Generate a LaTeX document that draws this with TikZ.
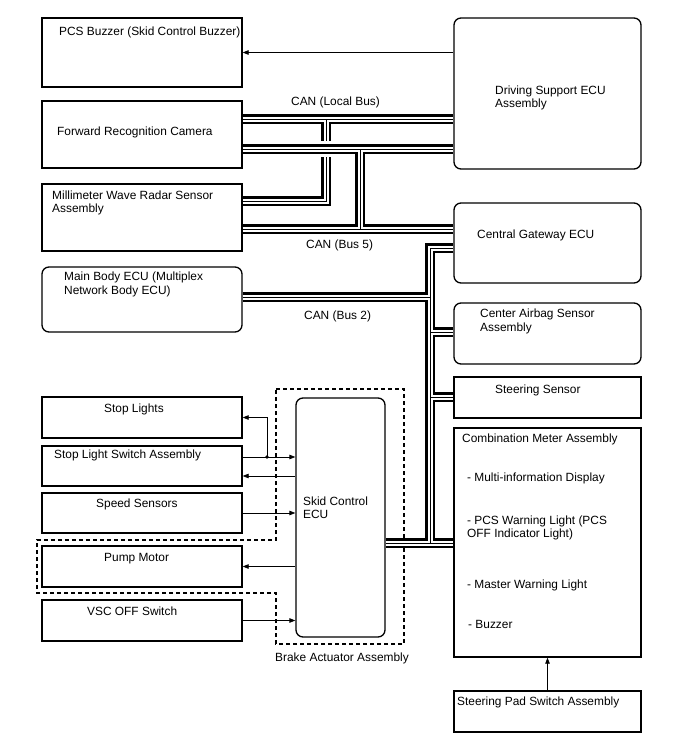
\documentclass[tikz,border=0pt]{standalone}
\usepackage{fontspec}
\setmainfont{Liberation Sans}
\usetikzlibrary{arrows.meta,fit}
\newcommand\canbus[1]{\draw[busA] #1; \draw[busB] #1; \draw[busC] #1;}
\begin{document}
\begin{tikzpicture}[x=1pt,y=-1pt,
  font=\fontsize{11.9}{13.4}\selectfont,
  sbox/.style={draw, line width=1.3pt, inner sep=0pt},
  rbox/.style={sbox, rounded corners=7pt},
  txt/.style={anchor=base west, inner sep=0pt},
  mtxt/.style={anchor=base west, inner sep=0pt, align=left},
  arr/.style={line width=0.8pt, -{Triangle[length=6pt,width=4.5pt]}},
  busA/.style={line width=9.2pt, black, line join=miter},
  busB/.style={line width=5pt, white, line join=miter},
  busC/.style={line width=1pt, black, line join=miter},
  brk/.style={line width=1.3pt, dash pattern=on 4pt off 3pt}]
\useasboundingbox (0,0) rectangle (688,755);
% boxes
\node[sbox, fit={(42,18) (242,87)}] (pcs) {};
\node[rbox, fit={(454,18) (641,169)}] (ds) {};
\node[sbox, fit={(42,101) (242,168)}] (cam) {};
\node[sbox, fit={(42,184) (242,251)}] (radar) {};
\node[rbox, fit={(454,203) (641,283)}] (cgw) {};
\node[rbox, fit={(42,267) (242,332)}] (mb) {};
\node[rbox, fit={(454,303) (641,364)}] (cas) {};
\node[sbox, fit={(454,377) (641,418)}] (ss) {};
\node[sbox, fit={(454,428) (641,657)}] (cm) {};
\node[sbox, fit={(454,691) (641,732)}] (sps) {};
\node[sbox, fit={(42,397) (242,438)}] (sl) {};
\node[sbox, fit={(42,446) (242,486)}] (sls) {};
\node[sbox, fit={(42,493) (242,533)}] (spd) {};
\node[sbox, fit={(42,546) (242,587)}] (pm) {};
\node[sbox, fit={(42,600) (242,641)}] (vsc) {};
\node[rbox, fit={(296,398) (385,637)}] (ecu) {};
% brake actuator outline
\draw[brk] (276,389) -- (404,389) -- (404,644) -- (276,644) -- (276,593) -- (37,593) -- (37,540) -- (276,540) -- cycle;
% texts
\node[txt] (pcs-t) at (59,35) {PCS Buzzer (Skid Control Buzzer)};
\node[mtxt] (ds-t) at (495,107.5) {Driving Support ECU\\Assembly};
\node[txt] (cam-t) at (57,135) {Forward Recognition Camera};
\node[mtxt] (radar-t) at (52,212.5) {Millimeter Wave Radar Sensor\\Assembly};
\node[mtxt] (mb-t) at (64,294) {Main Body ECU (Multiplex\\Network Body ECU)};
\node[txt] (cgw-t) at (477,238) {Central Gateway ECU};
\node[mtxt] (cas-t) at (480,331) {Center Airbag Sensor\\Assembly};
\node[txt] (ss-t) at (495,393) {Steering Sensor};
\node[txt] (cm-t1) at (462,442) {Combination Meter Assembly};
\node[txt] (cm-t2) at (467,481) {- Multi-information Display};
\node[mtxt] (cm-t3) at (467,537.5) {- PCS Warning Light (PCS\\OFF Indicator Light)};
\node[txt] (cm-t4) at (467,588) {- Master Warning Light};
\node[txt] (cm-t5) at (468,628) {- Buzzer};
\node[txt] (sps-t) at (457,705) {Steering Pad Switch Assembly};
\node[txt] (sl-t) at (104,412) {Stop Lights};
\node[txt] (sls-t) at (54,458) {Stop Light Switch Assembly};
\node[txt] (spd-t) at (96,507) {Speed Sensors};
\node[txt] (pm-t) at (104,561) {Pump Motor};
\node[txt] (vsc-t) at (87,615) {VSC OFF Switch};
\node[mtxt] (ecu-t) at (303,518.5) {Skid Control\\ECU};
\node[txt] (brk-t) at (275,661) {Brake Actuator Assembly};
\node[txt] (lb-t) at (291,105) {CAN (Local Bus)};
\node[txt] (b5-t) at (306,248) {CAN (Bus 5)};
\node[txt] (b2-t) at (304,319) {CAN (Bus 2)};
% CAN local bus
\canbus{(cam.east |- 0,119) -- (ds.west |- 0,119)
  (326,119) -- (326,141)
  (326,157) -- (326,201) -- (radar.east |- 0,201)}
% CAN bus 5
\canbus{(cam.east |- 0,149) -- (ds.west |- 0,149)
  (360,149) -- (360,229)
  (radar.east |- 0,229) -- (cgw.west |- 0,229)}
% CAN bus 2
\canbus{(mb.east |- 0,297) -- (430,297)
  (cgw.west |- 0,248) -- (430,248) -- (430,543)
  (430,332) -- (cas.west |- 0,332)
  (430,397) -- (ss.west |- 0,397)
  (ecu.east |- 0,543) -- (cm.west |- 0,543)}
% arrows
\draw[arr] (ds.west |- pcs.east) -- (pcs.east);
\draw[arr] (sps.north) -- (cm.south);
\coordinate (j) at (267,457);
\fill (j) circle (1.8pt);
\draw[arr] (sls.east |- j) -- (ecu.west |- j);
\draw[arr] (j) |- (sl.east);
\draw[arr] (ecu.west |- 0,476) -- (sls.east |- 0,476);
\draw[arr] (spd.east) -- (ecu.west |- spd.east);
\draw[arr] (ecu.west |- pm.east) -- (pm.east);
\draw[arr] (vsc.east) -- (ecu.west |- vsc.east);
\end{tikzpicture}
\end{document}
